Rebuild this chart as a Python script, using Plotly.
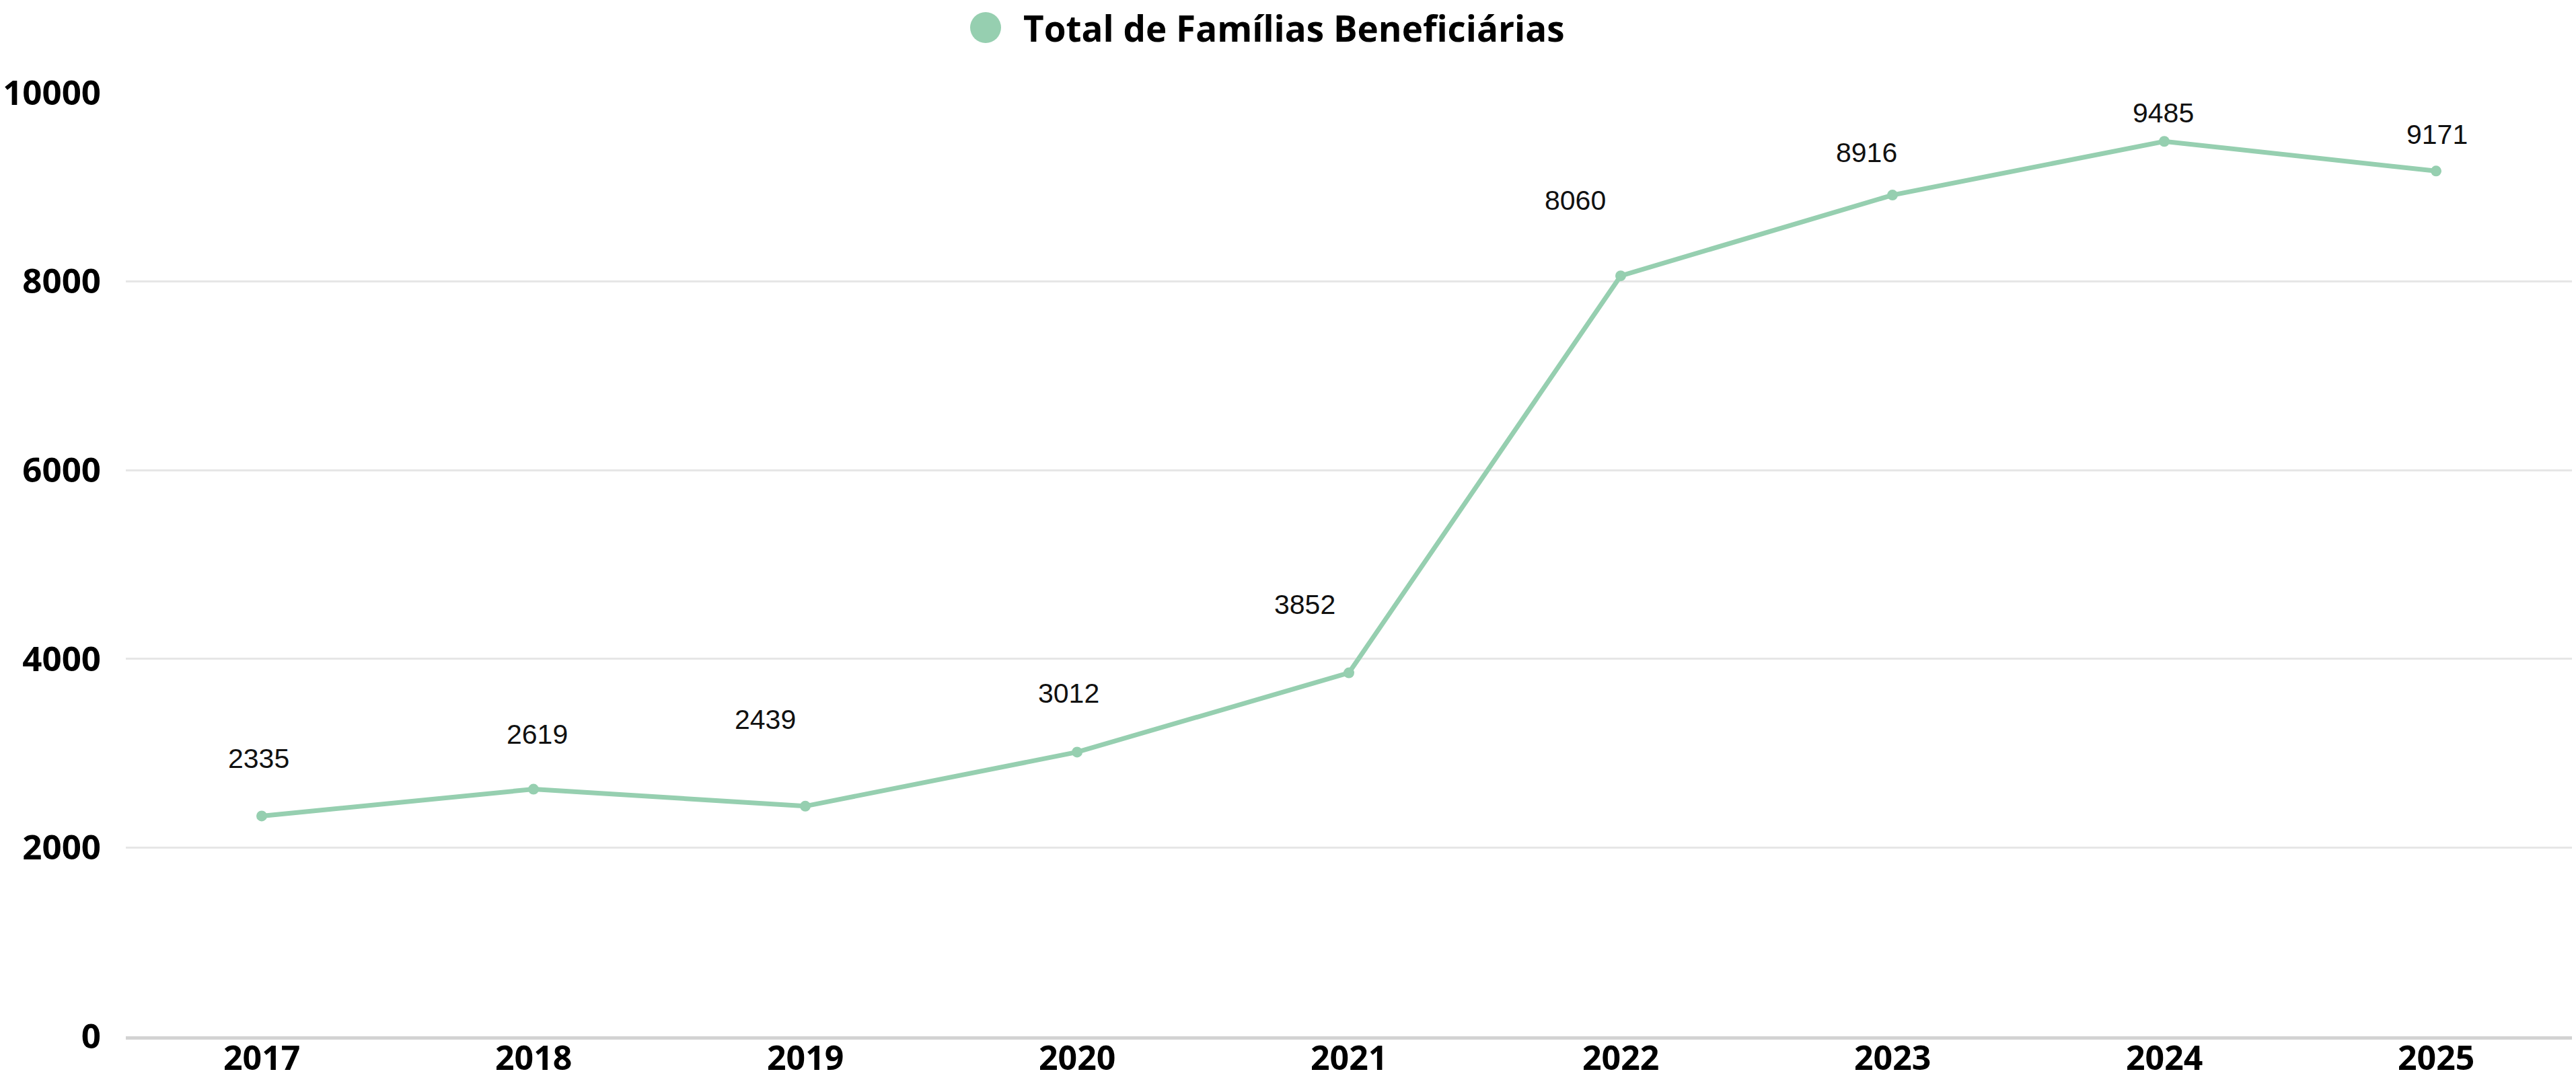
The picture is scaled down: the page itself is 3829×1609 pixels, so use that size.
import plotly.graph_objects as go

years = ["2017", "2018", "2019", "2020", "2021", "2022", "2023", "2024", "2025"]
familias = [2335, 2619, 2439, 3012, 3852, 8060, 8916, 9485, 9171]
series_name = "Total de Famílias Beneficiárias"
y_ticks = [0, 2000, 4000, 6000, 8000, 10000]

# label offsets in pixels (dx, dy-up) relative to each point
label_dx = [-5, 5, -60, -13, -66, -68, -39, -2, 1]
label_dy = [85, 82, 129, 87, 102, 112, 63, 42, 54]

GREEN = "#96cfb0"

fig = go.Figure()
fig.add_trace(go.Scatter(
    x=years, y=familias, mode="lines+markers", name=series_name,
    line=dict(color=GREEN, width=7),
    marker=dict(color=GREEN, size=16),
    showlegend=False, hoverinfo="x+y",
))

W, H = 3829, 1609
ml, mr, mt, mb = 187, 6, 138, 68
pw, ph = W - ml - mr, H - mt - mb

annotations = []
for i, (v, dx, dy) in enumerate(zip(familias, label_dx, label_dy)):
    annotations.append(dict(
        x=i, y=v, xref="x", yref="y", text=str(v), showarrow=False,
        xshift=dx, yshift=dy, xanchor="center", yanchor="middle",
        font=dict(family="Liberation Sans, Arial, sans-serif", size=41, color="#111111"),
    ))

# x category labels (placed so they stay inside the page)
for i, yr in enumerate(years):
    annotations.append(dict(
        x=i, y=0, xref="x", yref="paper", text="<b>" + yr + "</b>", showarrow=False,
        xanchor="center", yanchor="bottom", yshift=-(mb - 2), borderpad=0,
        font=dict(family="Open Sans, sans-serif", size=50, color="#000000"),
    ))

leg_text_x = (1519 - ml) / pw
leg_y = (H - mb - 41) / ph
leg_circle_x = (1465 - ml) / pw

# custom legend
annotations.append(dict(
    x=leg_text_x, y=leg_y, xref="paper", yref="paper", text="<b>" + series_name + "</b>",
    showarrow=False, xanchor="left", yanchor="middle",
    font=dict(family="Open Sans, sans-serif", size=53, color="#000000"),
))

fig.update_layout(
    width=W, height=H,
    margin=dict(l=ml, r=mr, t=mt, b=mb, autoexpand=False),
    paper_bgcolor="white", plot_bgcolor="white",
    annotations=annotations,
    shapes=[dict(
        type="circle", xref="paper", yref="paper",
        xsizemode="pixel", ysizemode="pixel",
        xanchor=leg_circle_x, yanchor=leg_y,
        x0=-23, x1=23, y0=-23, y1=23,
        fillcolor=GREEN, line=dict(width=0),
    )],
    xaxis=dict(
        type="category", range=[-0.5, 8.5], automargin=False,
        showgrid=False, zeroline=False,
        showline=True, linecolor="#d3d3d3", linewidth=5,
        ticks="", showticklabels=False,
    ),
    yaxis=dict(
        range=[0, 10000], tickvals=y_ticks, tickformat="d", automargin=False,
        showgrid=True, gridcolor="#e6e6e6", gridwidth=3,
        zeroline=False, showline=False,
        ticks="", ticklabelstandoff=36,
        tickfont=dict(family="Open Sans, sans-serif", size=51, color="#000000", weight="bold"),
    ),
)

fig.write_html(
    "out.html",
    config={"displayModeBar": False},
    post_script="document.body.style.margin='0';document.body.style.overflow='hidden';",
)
